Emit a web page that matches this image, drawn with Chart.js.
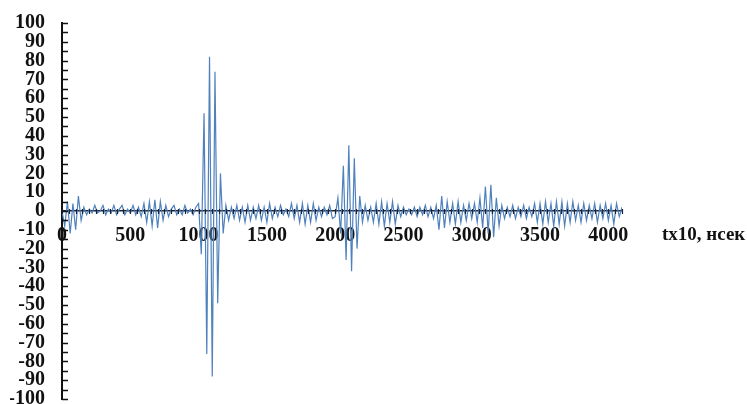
<!DOCTYPE html>
<html>
<head>
<meta charset="utf-8">
<script src="https://cdn.jsdelivr.net/npm/chart.js@4/dist/chart.umd.min.js"></script>
<style>
  html, body { margin: 0; padding: 0; background: #ffffff; }
  #wrap { width: 747px; height: 404px; position: relative; }
</style>
</head>
<body>
<div id="wrap"><canvas id="chart"></canvas></div>
<script>
// sample times (tx10, нсек)
const times = [
  0, 20, 40, 60, 80, 100, 120, 140, 160, 180,
  200, 220, 240, 260, 280, 300, 320, 340, 360, 380,
  400, 420, 440, 460, 480, 500, 520, 540, 560, 580,
  600, 620, 640, 660, 680, 700, 720, 740, 760, 780,
  800, 820, 840, 860, 880, 900, 920, 940, 960, 980,
  1000, 1020, 1040, 1060, 1080, 1100, 1120, 1140, 1160, 1180,
  1200, 1220, 1240, 1260, 1280, 1300, 1320, 1340, 1360, 1380,
  1400, 1420, 1440, 1460, 1480, 1500, 1520, 1540, 1560, 1580,
  1600, 1620, 1640, 1660, 1680, 1700, 1720, 1740, 1760, 1780,
  1800, 1820, 1840, 1860, 1880, 1900, 1920, 1940, 1960, 1980,
  2000, 2020, 2040, 2060, 2080, 2100, 2120, 2140, 2160, 2180,
  2200, 2220, 2240, 2260, 2280, 2300, 2320, 2340, 2360, 2380,
  2400, 2420, 2440, 2460, 2480, 2500, 2520, 2540, 2560, 2580,
  2600, 2620, 2640, 2660, 2680, 2700, 2720, 2740, 2760, 2780,
  2800, 2820, 2840, 2860, 2880, 2900, 2920, 2940, 2960, 2980,
  3000, 3020, 3040, 3060, 3080, 3100, 3120, 3140, 3160, 3180,
  3200, 3220, 3240, 3260, 3280, 3300, 3320, 3340, 3360, 3380,
  3400, 3420, 3440, 3460, 3480, 3500, 3520, 3540, 3560, 3580,
  3600, 3620, 3640, 3660, 3680, 3700, 3720, 3740, 3760, 3780,
  3800, 3820, 3840, 3860, 3880, 3900, 3920, 3940, 3960, 3980,
  4000, 4020, 4040, 4060, 4080, 4100
];

// signal amplitude
const values = [
  0, -8, 5, -12, 4, -10, 8, -5, 2, -2,
  1, -1, 3, -1, 0, 3, -2, 1, -1, 3,
  -2, 1, 3, -2, 1, -1, 3, -2, 2, -3,
  4, -6, 5, -8, 6, -9, 5, -5, 3, -3,
  1, 3, -2, 1, -2, 3, -1, 1, -2, 2,
  4, -23, 52, -76, 82, -88, 74, -49, 20, -12,
  3, -5, 2, -4, 3, -5, 2, -6, 3, -5,
  2, -4, 3, -5, 2, -6, 4, -4, 2, -3,
  3, -2, 1, -3, 4, -4, 3, -6, 4, -7,
  3, -6, 4, -5, 2, -3, 2, -2, 3, -4,
  -3, 7, -12, 24, -26, 35, -32, 28, -20, 8,
  -6, 3, -5, 2, -6, 4, -7, 5, -8, 4,
  -6, 5, -7, 3, -3, 2, -2, 1, -2, 2,
  -3, 2, -2, 3, -3, 2, -4, 3, -10, 8,
  -9, 5, -6, 4, -7, 5, -6, 3, -5, 4,
  -4, 4, -6, 7, -9, 13, -12, 14, -14, 7,
  -8, 3, -4, 2, -3, 3, -4, 2, -3, 3,
  -4, 2, -3, 4, -6, 4, -7, 5, -6, 4,
  -8, 5, -7, 5, -8, 4, -6, 5, -5, 3,
  -6, 4, -5, 3, -4, 4, -6, 3, -4, 4,
  -5, 3, -7, 4, -3, 2
];

const xTitle = "tx10, нсек";
const fontFamily = "'Liberation Serif', 'DejaVu Serif', serif";
const labelFont = { family: fontFamily, size: 20, weight: "bold" };

// short tick marks: inward on y, crossing on x
const axisMarksPlugin = {
  id: "axisMarksPlugin",
  afterDraw(chart) {
    const { ctx, scales } = chart;
    const xs = scales.x;
    const ys = scales.y;
    const y0 = ys.getPixelForValue(0);
    const xLeft = xs.getPixelForValue(0);

    ctx.save();
    ctx.strokeStyle = "#111111";
    ctx.lineWidth = 1.5;
    ys.ticks.forEach((t) => {
      const py = Math.round(ys.getPixelForValue(t.value)) + 0.5;
      ctx.beginPath();
      ctx.moveTo(xLeft, py);
      ctx.lineTo(xLeft + 6, py);
      ctx.stroke();
    });

    ctx.strokeStyle = "#1a2233";
    ctx.lineWidth = 1.2;
    xs.ticks.forEach((t) => {
      const px = Math.round(xs.getPixelForValue(t.value)) + 0.5;
      ctx.beginPath();
      ctx.moveTo(px, y0 - 2);
      ctx.lineTo(px, y0 + 3);
      ctx.stroke();
    });

    ctx.fillStyle = "#111111";
    ctx.font = `bold 19px ${fontFamily}`;
    ctx.textAlign = "left";
    ctx.textBaseline = "middle";
    ctx.fillText(xTitle, xs.right + 40, y0 + 24);
    ctx.restore();
  }
};

new Chart(document.getElementById("chart"), {
  type: "line",
  data: {
    datasets: [{
      data: times.map((t, i) => ({ x: t, y: values[i] })),
      borderColor: "#4f81bd",
      borderWidth: 1.2,
      pointRadius: 0,
      tension: 0,
      fill: false
    }]
  },
  options: {
    responsive: true,
    maintainAspectRatio: false,
    animation: false,
    layout: { padding: { left: 10, right: 125, top: 23, bottom: 5 } },
    plugins: {
      legend: { display: false },
      tooltip: { enabled: false }
    },
    scales: {
      x: {
        type: "linear",
        position: { y: 0 },
        min: 0,
        max: 4100,
        z: 1,
        afterFit(scale) { scale.height = 0; },
        grid: { display: false, drawTicks: false },
        border: { display: true, color: "#1a2233", width: 1.5 },
        ticks: {
          stepSize: 50,
          autoSkip: false,
          maxRotation: 0,
          padding: 13,
          color: "#111111",
          font: labelFont,
          callback: (v) => (v % 500 === 0 ? String(v) : "")
        }
      },
      y: {
        min: -100,
        max: 100,
        afterFit(scale) {
          scale.width = 52;
          scale.paddingTop = 0;
          scale.paddingBottom = 0;
        },
        grid: { display: false, drawTicks: false },
        border: { display: true, color: "#111111", width: 2 },
        ticks: {
          stepSize: 5,
          autoSkip: false,
          padding: 17,
          color: "#111111",
          font: labelFont,
          callback: (v) => (v % 10 === 0 ? String(v) : "")
        }
      }
    }
  },
  plugins: [axisMarksPlugin]
});
</script>
</body>
</html>
